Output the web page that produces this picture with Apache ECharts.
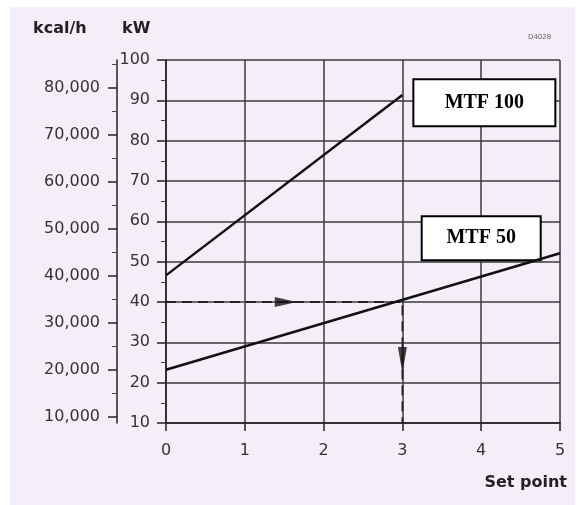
<!DOCTYPE html>
<html>
<head>
<meta charset="utf-8">
<script src="https://cdn.jsdelivr.net/npm/echarts@6/dist/echarts.min.js"></script>
<style>
html,body{margin:0;padding:0;background:#fff;}
#chart{width:581px;height:505px;}
</style>
</head>
<body>
<div id="chart"></div>
<script>
// ---- data ----
const setPointTicks = [0, 1, 2, 3, 4, 5];
const kwTicks = [10, 20, 30, 40, 50, 60, 70, 80, 90, 100];
const kcalTicks = [10000, 20000, 30000, 40000, 50000, 60000, 70000, 80000];
const kcalMinorTicks = [15000, 25000, 35000, 45000, 55000, 65000, 75000, 85000];
const kcalPerKw = 860;

const mtf100X = [0, 3];
const mtf100Y = [46.6, 91.3];
const mtf50X = [0, 5];
const mtf50Y = [23.2, 52.1];

const readX = [0, 3, 3];
const readY = [40, 40, 10];
const arrowRight = [1.52, 40];
const arrowDown = [3, 25.6];

const label100 = { text: 'MTF 100', pos: [4.04, 89.4] };
const label50 = { text: 'MTF 50', pos: [4.0, 55.8] };

const zip = (xs, ys) => xs.map((x, i) => [x, ys[i]]);

const chart = echarts.init(document.getElementById('chart'), null, { renderer: 'canvas' });

const labelFont = { fontFamily: 'DejaVu Sans', fontSize: 16, color: '#333' };
const kwMin = kwTicks[0], kwMax = kwTicks[kwTicks.length - 1];

function boxMark(lbl, w, h) {
  return {
    silent: true,
    symbol: 'circle',
    symbolSize: 0,
    itemStyle: { color: 'transparent' },
    label: {
      show: true, position: 'inside', formatter: lbl.text,
      fontFamily: 'Liberation Serif', fontWeight: 'bold', fontSize: 20, color: '#000',
      backgroundColor: '#fff', borderColor: '#000', borderWidth: 2,
      width: w, height: h, lineHeight: h, align: 'center', verticalAlign: 'middle',
      padding: 0
    },
    data: [{ coord: lbl.pos }]
  };
}

const option = {
  animation: false,
  backgroundColor: 'transparent',
  graphic: [
    { type: 'rect', z: -10, shape: { x: 10, y: 7, width: 565, height: 498 }, style: { fill: '#f5edf8' } },
    { type: 'text', left: 33, top: 21, style: { text: 'kcal/h', font: 'bold 16px "DejaVu Sans"', fill: '#222' } },
    { type: 'text', left: 122, top: 21, style: { text: 'kW', font: 'bold 16px "DejaVu Sans"', fill: '#222' } },
    { type: 'text', right: 14, top: 475, style: { text: 'Set point', font: 'bold 16px "DejaVu Sans"', fill: '#222' } },
    { type: 'text', left: 528, top: 34, style: { text: 'D4028', font: '7px "DejaVu Sans"', fill: '#666' } }
  ],
  grid: { left: 166, right: 21, top: 60, bottom: 82 },
  xAxis: {
    type: 'value', min: 0, max: 5, interval: 1,
    axisLine: { show: true, lineStyle: { color: '#222', width: 1.5 } },
    axisTick: { show: true, length: 8, lineStyle: { color: '#222', width: 1.5 } },
    axisLabel: Object.assign({ margin: 20, customValues: setPointTicks }, labelFont),
    splitLine: { show: true, lineStyle: { color: '#3a3a3a', width: 1.5 } }
  },
  yAxis: [
    {
      type: 'value', min: kwMin, max: kwMax, interval: 10, position: 'left',
      axisLine: { show: true, lineStyle: { color: '#222', width: 1.5 } },
      axisTick: { show: true, length: 9, lineStyle: { color: '#222', width: 1.5 } },
      minorTick: { show: true, splitNumber: 2, length: 5, lineStyle: { color: '#444', width: 1 } },
      axisLabel: Object.assign({ margin: 16 }, labelFont),
      splitLine: { show: true, lineStyle: { color: '#3a3a3a', width: 1.5 } }
    },
    {
      type: 'value', min: kwMin * kcalPerKw, max: kwMax * kcalPerKw, position: 'left', offset: 49,
      axisLine: { show: true, lineStyle: { color: '#222', width: 1.5 } },
      axisTick: { show: true, length: 9, customValues: kcalTicks, lineStyle: { color: '#222', width: 1.5 } },
      axisLabel: Object.assign({ margin: 17, customValues: kcalTicks,
        formatter: v => v.toLocaleString('en-US') }, labelFont),
      splitLine: { show: false }
    },
    {
      type: 'value', min: kwMin * kcalPerKw, max: kwMax * kcalPerKw, position: 'left', offset: 49,
      axisLine: { show: false },
      axisTick: { show: true, length: 5, customValues: kcalMinorTicks, lineStyle: { color: '#444', width: 1 } },
      axisLabel: { show: false },
      splitLine: { show: false }
    }
  ],
  series: [
    {
      type: 'line', data: zip(mtf100X, mtf100Y), symbol: 'none',
      lineStyle: { color: '#111', width: 2.5 }, z: 5,
      markPoint: boxMark(label100, 140, 45)
    },
    {
      type: 'line', data: zip(mtf50X, mtf50Y), symbol: 'none',
      lineStyle: { color: '#111', width: 2.5 }, z: 5,
      markPoint: boxMark(label50, 117, 42)
    },
    {
      type: 'line', data: zip(readX, readY), symbol: 'none',
      lineStyle: { color: '#222', width: 1.8, type: [10, 6] }, z: 4
    },
    {
      type: 'scatter', data: [arrowRight], symbol: 'triangle', symbolSize: [10, 22],
      symbolRotate: -90, itemStyle: { color: '#111' }, z: 6
    },
    {
      type: 'scatter', data: [arrowDown], symbol: 'triangle', symbolSize: [9, 26],
      symbolRotate: 180, itemStyle: { color: '#111' }, z: 6
    }
  ]
};
chart.setOption(option);
</script>
</body>
</html>
